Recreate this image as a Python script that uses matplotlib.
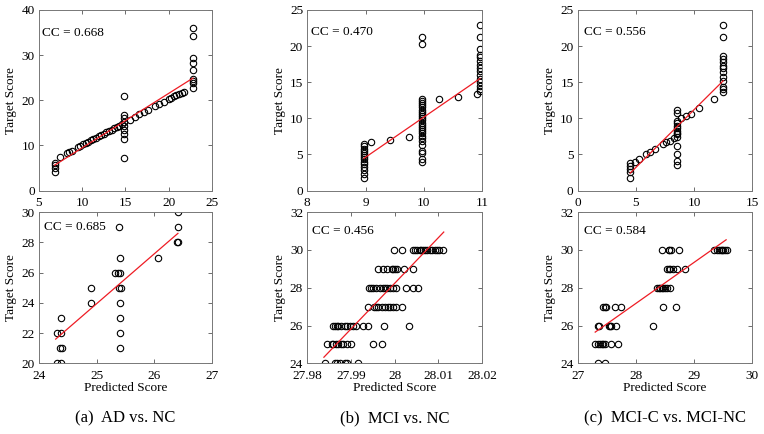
import numpy as np
import matplotlib
matplotlib.use("Agg")
import matplotlib.pyplot as plt
from matplotlib.ticker import FuncFormatter

plt.rcParams['font.family'] = ['Liberation Serif', 'DejaVu Serif']

# (a) AD vs. NC, top row
a_top_x = [6.8, 6.8, 6.8, 6.8,
           7.4, 8.2, 8.5, 8.8, 9.5, 9.8, 10.1, 10.4, 10.7, 11.0, 11.3, 11.6, 11.9, 12.2, 12.5,
           12.8, 13.1, 13.4, 13.7, 14.0, 14.3, 14.6, 15.5, 16.1, 16.6, 17.2, 17.6, 18.4, 18.9,
           19.5, 20.0, 20.3, 20.6, 20.9, 21.2, 21.5, 21.8,
           14.85, 14.85, 14.85, 14.85, 14.85, 14.85, 14.85, 14.85, 14.85,
           22.8, 22.8, 22.8, 22.8, 22.8, 22.8, 22.8, 22.8, 22.8]
a_top_y = [4.2, 5.0, 5.6, 6.1,
           7.5, 8.3, 8.6, 8.8, 9.6, 9.9, 10.2, 10.5, 10.8, 11.1, 11.4, 11.7, 12.0, 12.3, 12.6,
           12.9, 13.2, 13.5, 13.8, 14.1, 14.4, 14.7, 15.6, 16.4, 16.9, 17.4, 17.8, 18.7, 19.1,
           19.7, 20.3, 20.6, 20.9, 21.1, 21.4, 21.6, 21.9,
           7.1, 11.5, 12.6, 13.4, 14.3, 15.2, 16.0, 16.7, 21.0,
           22.8, 23.8, 24.3, 24.8, 26.6, 28.3, 29.3, 34.2, 35.9]

# (b) MCI vs. NC, top row
b_top_x = [8.97] * 14 + [9.09, 9.41, 9.74, 10.26, 10.58, 10.91] + [9.96] * 27 + [10.96] * 15
b_top_y = [1.7, 2.3, 2.9, 3.3, 3.7, 4.0, 4.3, 4.6, 4.9, 5.2, 5.5, 5.8, 6.1, 6.4,
           6.7, 7.0, 7.4, 12.7, 13.0, 13.3,
           4.0, 4.3, 5.2, 5.5, 6.3, 6.9, 7.3, 7.6, 7.9, 8.2, 8.5, 8.8, 9.1, 9.4, 9.7, 10.0,
           10.3, 10.6, 10.9, 11.2, 11.5, 11.8, 12.1, 12.4, 12.7, 20.3, 21.3,
           13.8, 14.1, 14.5, 15.0, 15.4, 16.0, 16.5, 17.0, 17.4, 17.9, 18.5, 18.8, 19.6, 21.3, 22.9]

# (c) MCI-C vs. MCI-NC, top row
c_top_x = [4.5] * 5 + [4.9, 5.3, 5.9, 6.2, 6.6, 7.3, 7.6, 7.9, 8.3, 8.9, 9.3, 9.7, 10.4, 11.7] \
    + [8.55] * 14 + [12.5] * 13
c_top_y = [1.7, 2.5, 3.0, 3.4, 3.8,
           4.0, 4.4, 5.0, 5.4, 5.7, 6.4, 6.7, 6.9, 7.3, 10.0, 10.3, 10.6, 11.4, 12.7,
           3.6, 4.1, 5.0, 6.2, 7.4, 7.8, 8.0, 8.3, 8.6, 8.9, 9.3, 9.6, 10.7, 11.1,
           13.6, 14.0, 14.4, 15.2, 15.7, 16.4, 16.9, 17.3, 17.8, 18.2, 18.6, 21.3, 22.9]

# (a) bottom row
a_bot_x = [24.31, 24.39, 24.31, 24.39, 24.39, 24.37, 24.40, 24.91, 24.91, 25.32, 25.37, 25.41,
           25.39, 25.40, 25.38, 25.42, 25.40, 25.40, 25.40, 25.40, 26.07, 26.41, 26.41, 26.40, 26.42]
a_bot_y = [20, 20, 22, 22, 23, 21, 21, 25, 24, 26, 26, 26,
           29, 27, 25, 25, 24, 23, 22, 21, 27, 30, 29, 28, 28]

# (b) bottom row
b_bot_x = [27.9840, 27.9863, 27.9869, 27.9875, 27.9886, 27.9890, 27.9915,
           27.9846, 27.9856, 27.9859, 27.9866, 27.9871, 27.9876, 27.9882, 27.9890, 27.9901,
           27.9951, 27.9970,
           27.9859, 27.9863, 27.9867, 27.9871, 27.9878, 27.9886, 27.9890, 27.9898, 27.9905,
           27.9911, 27.9928, 27.9939, 27.9976, 28.0033,
           27.9939, 27.9952, 27.9957, 27.9962, 27.9970, 27.9978, 27.9984, 27.9989, 27.9995,
           28.0002, 28.0016,
           27.9942, 27.9945, 27.9951, 27.9957, 27.9966, 27.9972, 27.9978, 27.9983, 27.9989,
           27.9995, 28.0003, 28.0026, 28.0042, 28.0054,
           27.9962, 27.9974, 27.9983, 27.9993, 27.9997, 28.0000, 28.0004, 28.0021, 28.0041,
           27.9998, 28.0016, 28.0042, 28.0046, 28.0050, 28.0058, 28.0061, 28.0065, 28.0069,
           28.0074, 28.0080, 28.0086, 28.0092, 28.0097, 28.0102, 28.0111]
b_bot_y = [24] * 7 + [25] * 11 + [26] * 14 + [27] * 11 + [28] * 14 + [29] * 9 + [30] * 16

# (c) bottom row
c_bot_x = [27.34, 27.46,
           27.30, 27.35, 27.38, 27.41, 27.44, 27.47, 27.57, 27.70,
           27.35, 27.37, 27.53, 27.56, 27.58, 27.66, 28.29,
           27.44, 27.46, 27.48, 27.64, 27.74, 28.47, 28.69,
           28.36, 28.39, 28.41, 28.44, 28.47, 28.50, 28.53, 28.59,
           28.53, 28.56, 28.59, 28.64, 28.70, 28.84,
           28.44, 28.56, 28.57, 28.60, 28.74, 29.34, 29.40, 29.43, 29.46, 29.48, 29.50, 29.53, 29.56]
c_bot_y = [24] * 2 + [25] * 8 + [26] * 7 + [27] * 7 + [28] * 8 + [29] * 6 + [30] * 13

# regression lines (end points)
fit_x = [[6.8, 22.8], [8.97, 10.96], [4.5, 12.5], [24.29, 26.41], [27.9838, 28.0112], [27.30, 29.55]]
fit_y = [[5.6, 24.9], [4.45, 15.5], [2.4, 15.2], [21.6, 28.6], [24.32, 30.95], [25.65, 30.54]]

cc_values = ["0.668", "0.470", "0.556", "0.685", "0.456", "0.584"]
cc_pos = [(5.4, 35), (8.07, 22), (0.5, 22), (24.09, 29), (27.981, 31), (27.1, 31)]

xlims = [(5, 25), (8, 11), (0, 15), (24, 27), (27.98, 28.02), (27, 30)]
ylims = [(0, 40), (0, 25), (0, 25), (20, 30), (24, 32), (24, 32)]
xticks = [[5, 10, 15, 20, 25], [8, 9, 10, 11], [0, 5, 10, 15],
          [24, 25, 26, 27], [27.98, 27.99, 28, 28.01, 28.02], [27, 28, 29, 30]]
yticks = [[0, 10, 20, 30, 40], [0, 5, 10, 15, 20, 25], [0, 5, 10, 15, 20, 25],
          [20, 22, 24, 26, 28, 30], [24, 26, 28, 30, 32], [24, 26, 28, 30, 32]]

captions = ["(a)  AD vs. NC", "(b)  MCI vs. NC", "(c)  MCI-C vs. MCI-NC"]

xs = [a_top_x, b_top_x, c_top_x, a_bot_x, b_bot_x, c_bot_x]
ys = [a_top_y, b_top_y, c_top_y, a_bot_y, b_bot_y, c_bot_y]

fig = plt.figure(figsize=(7.64, 4.34), dpi=100)

lefts = [0.051, 0.4022, 0.7562]
widths = [0.2264, 0.229, 0.2285]
row_bottom = [0.561, 0.163]
row_height = [0.416, 0.348]

fmt = FuncFormatter(lambda v, p: "%g" % round(v, 4))

for k in range(6):
    r, c = divmod(k, 3)
    ax = fig.add_axes([lefts[c], row_bottom[r], widths[c], row_height[r]])
    ax.plot(xs[k], ys[k], 'o', mfc='none', mec='black', ms=4.6, mew=0.8)
    ax.plot(fit_x[k], fit_y[k], color='#ee1c24', lw=0.9)
    ax.text(cc_pos[k][0], cc_pos[k][1], "CC = " + cc_values[k], fontsize=9.5, va='center')
    ax.set_xlim(xlims[k])
    ax.set_ylim(ylims[k])
    ax.set_xticks(xticks[k])
    ax.set_yticks(yticks[k])
    ax.xaxis.set_major_formatter(fmt)
    ax.tick_params(direction='in', top=True, right=True, length=3, width=0.6,
                   color='#555555', labelsize=9.5)
    ax.tick_params(axis='x', pad=5)
    ax.tick_params(axis='y', pad=3)
    for s in ax.spines.values():
        s.set_color('#777777')
        s.set_linewidth(0.7)
    ax.set_ylabel("Target Score", fontsize=9.5, labelpad=3)
    if r == 1:
        ax.set_xlabel("Predicted Score", fontsize=9.5, labelpad=0)

for c in range(3):
    fig.text(lefts[c] + widths[c] / 2, 0.035, captions[c], fontsize=12, ha='center', va='center')

fig.savefig("out.png", dpi=100)
